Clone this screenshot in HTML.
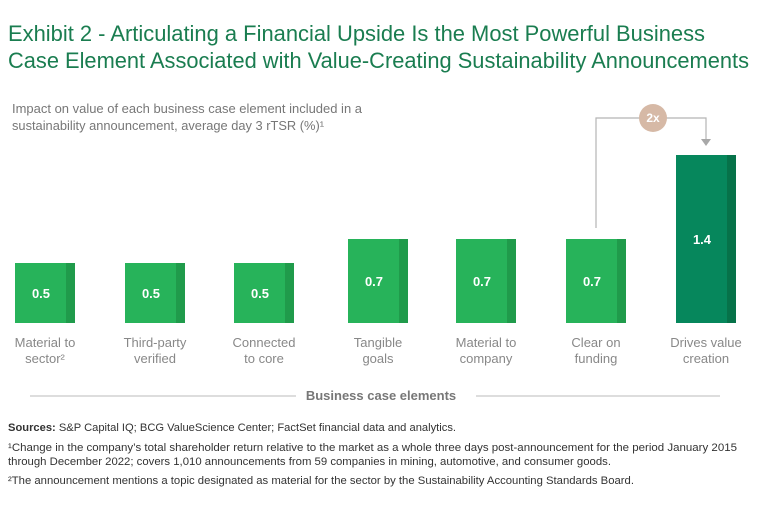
<!DOCTYPE html>
<html><head><meta charset="utf-8"><style>
html,body{margin:0;padding:0;background:#fff;width:768px;height:511px;overflow:hidden}
svg{display:block;font-family:"Liberation Sans",sans-serif}
</style></head><body>
<svg id="chart" width="768" height="511" viewBox="0 0 768 511" xmlns="http://www.w3.org/2000/svg">
<g fill="#1a7d50" font-size="22">
<text x="8" y="41" textLength="697" lengthAdjust="spacingAndGlyphs">Exhibit 2 - Articulating a Financial Upside Is the Most Powerful Business</text>
<text x="8" y="68" textLength="741" lengthAdjust="spacingAndGlyphs">Case Element Associated with Value-Creating Sustainability Announcements</text>
</g>
<g fill="#777" font-size="13">
<text x="12" y="113" textLength="350" lengthAdjust="spacingAndGlyphs">Impact on value of each business case element included in a</text>
<text x="12" y="130" textLength="312" lengthAdjust="spacingAndGlyphs">sustainability announcement, average day 3 rTSR (%)¹</text>
</g>
<g id="bars"></g>
<g>
<polyline points="596,228 596,118 706,118 706,139" fill="none" stroke="#b5b5b5" stroke-width="1.2"/>
<polygon points="701,139 711,139 706,146" fill="#a8a8a8"/>
<circle cx="653" cy="118" r="14" fill="#d6b9a6"/>
<text x="653" y="122" text-anchor="middle" fill="#fff" font-size="12" font-weight="bold">2x</text>
</g>
<g>
<line x1="30" y1="396" x2="296" y2="396" stroke="#bbb"/>
<line x1="476" y1="396" x2="720" y2="396" stroke="#bbb"/>
<text x="381" y="400" text-anchor="middle" fill="#777" font-size="13" font-weight="bold">Business case elements</text>
</g>
<g fill="#333" font-size="11">
<text x="8" y="431" textLength="448" lengthAdjust="spacingAndGlyphs"><tspan font-weight="bold">Sources:</tspan> S&amp;P Capital IQ; BCG ValueScience Center; FactSet financial data and analytics.</text>
<text x="8" y="451" textLength="729" lengthAdjust="spacingAndGlyphs">¹Change in the company’s total shareholder return relative to the market as a whole three days post-announcement for the period January 2015</text>
<text x="8" y="465" textLength="603" lengthAdjust="spacingAndGlyphs">through December 2022; covers 1,010 announcements from 59 companies in mining, automotive, and consumer goods.</text>
<text x="8" y="484" textLength="626" lengthAdjust="spacingAndGlyphs">²The announcement mentions a topic designated as material for the sector by the Sustainability Accounting Standards Board.</text>
</g>
</svg>
<script>
const categories = [["Material to","sector²"],["Third-party","verified"],["Connected","to core"],["Tangible","goals"],["Material to","company"],["Clear on","funding"],["Drives value","creation"]];
const values = [0.5,0.5,0.5,0.7,0.7,0.7,1.4];
const valueLabels = ["0.5","0.5","0.5","0.7","0.7","0.7","1.4"];
const highlight = [false,false,false,false,false,false,true];
const NS="http://www.w3.org/2000/svg";
const baseY=323, pxPerUnit=120, barW=60;
const xCenter=i=>[45,155,264,378,486,596,706][i];
const yScale=v=>baseY-v*pxPerUnit;
const g=document.getElementById('bars');
function mk(t,a){const e=document.createElementNS(NS,t);for(const k in a)e.setAttribute(k,a[k]);return e;}
values.forEach((v,i)=>{
  const cx=xCenter(i), top=yScale(v), h=baseY-top;
  const grp=mk('g',{});
  
  
  const main=highlight[i]?'#06875c':'#27b35a', dark=highlight[i]?'#067249':'#209b4b';
  grp.appendChild(mk('rect',{x:cx-barW/2,y:top,width:barW,height:h,fill:main}));
  grp.appendChild(mk('rect',{x:cx+barW/2-9,y:top,width:9,height:h,fill:dark}));
  const t=mk('text',{x:cx-4,y:top+h/2+5,'text-anchor':'middle',fill:'#fff','font-size':'13','font-weight':'bold'});
  t.textContent=valueLabels[i];
  
  
  grp.appendChild(t);
  categories[i].forEach((line,j)=>{
    const c=mk('text',{x:cx,y:347+j*16,'text-anchor':'middle',fill:'#888','font-size':'13'});
    c.textContent=line;
    
    
    grp.appendChild(c);
  });
  g.appendChild(grp);
});
</script>
</body></html>
